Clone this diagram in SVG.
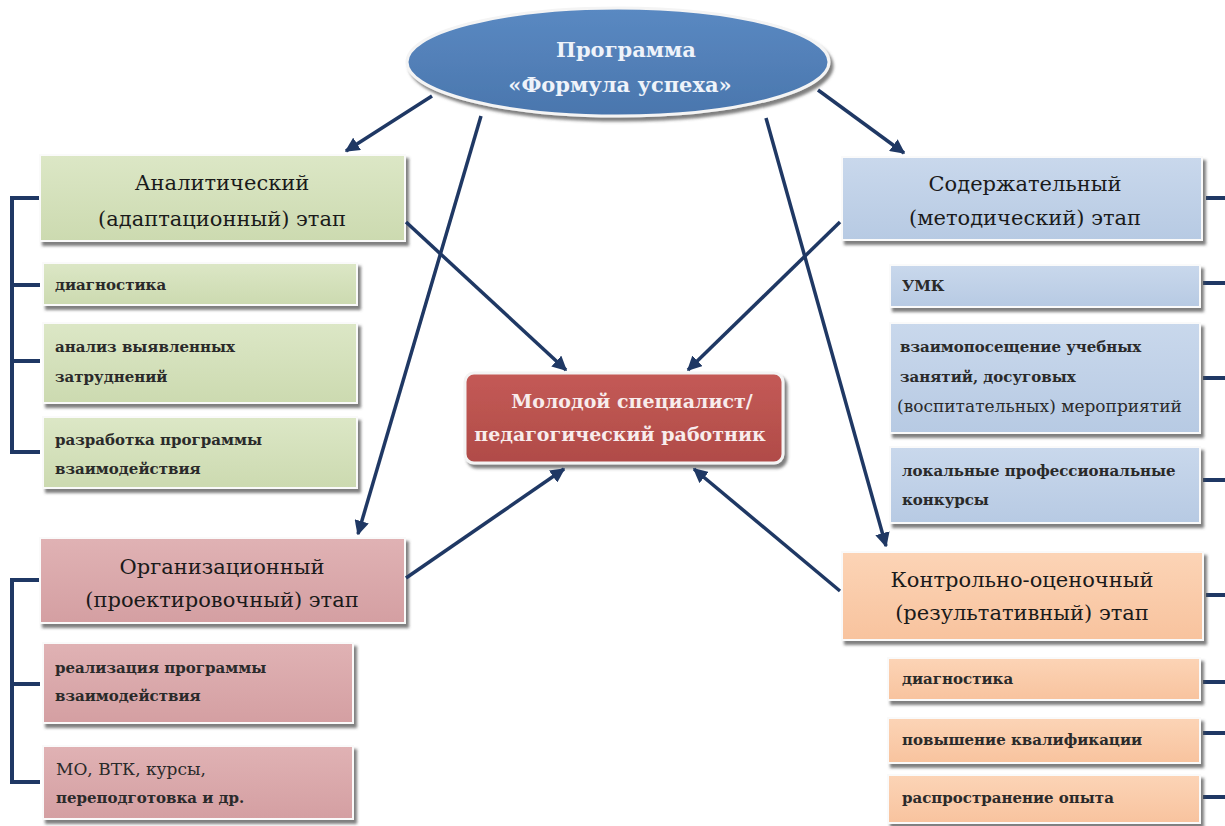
<svg xmlns="http://www.w3.org/2000/svg" width="1225" height="826" viewBox="0 0 1225 826" font-family="'DejaVu Serif', 'Liberation Serif', serif">
<defs>
<filter id="sh" x="-10%" y="-10%" width="125%" height="140%">
<feDropShadow dx="3" dy="4" stdDeviation="1.5" flood-color="#555" flood-opacity="0.75"/>
</filter>
<linearGradient id="gG" x1="0" y1="0" x2="0" y2="1"><stop offset="0" stop-color="#dce7c6"/><stop offset="1" stop-color="#ccdab0"/></linearGradient>
<linearGradient id="gB" x1="0" y1="0" x2="0" y2="1"><stop offset="0" stop-color="#c9d8ec"/><stop offset="1" stop-color="#b7cae3"/></linearGradient>
<linearGradient id="gP" x1="0" y1="0" x2="0" y2="1"><stop offset="0" stop-color="#e0b2b4"/><stop offset="1" stop-color="#d49fa2"/></linearGradient>
<linearGradient id="gO" x1="0" y1="0" x2="0" y2="1"><stop offset="0" stop-color="#fcd4b6"/><stop offset="1" stop-color="#f8c39e"/></linearGradient>
<linearGradient id="gE" x1="0" y1="0" x2="0" y2="1"><stop offset="0" stop-color="#5a89c2"/><stop offset="1" stop-color="#4a76ad"/></linearGradient>
<linearGradient id="gR" x1="0" y1="0" x2="0" y2="1"><stop offset="0" stop-color="#c45a56"/><stop offset="1" stop-color="#b04b48"/></linearGradient>
<marker id="ah" viewBox="0 0 10 10" refX="9" refY="5" markerWidth="4.2" markerHeight="4.2" orient="auto" markerUnits="strokeWidth">
<path d="M0,0 L10,5 L0,10 Z" fill="#1f3864"/>
</marker>
</defs>
<style>
.box{stroke:#fafafa;stroke-width:2;filter:url(#sh)}
.g{fill:url(#gG)} .b{fill:url(#gB)} .p{fill:url(#gP)} .o{fill:url(#gO)}
.title{font-size:21px;fill:#1a1a1a;text-anchor:middle}
.sub{font-size:15px;font-weight:bold;fill:#2a2a2a}
.hd{font-size:21px;font-weight:bold;text-anchor:middle}
.hd2{font-size:19px;font-weight:bold;text-anchor:middle}
.con{stroke:#1f3864;stroke-width:3.5;fill:none;marker-end:url(#ah)}
.br{stroke:#1f3864;stroke-width:4;fill:none}
</style>

<g id="brackets">
<path class="br" d="M40,198 H12 V452 H40 M12,285 H40 M12,361 H40"/>
<path class="br" d="M40,580 H12 V782 H40 M12,684 H40"/>
<path class="br" d="M1206,198 H1225 M1203,283 H1225 M1203,378 H1225 M1203,480 H1225"/>
<path class="br" d="M1206,595 H1225 M1203,682 H1225 M1203,733 H1225 M1203,797 H1225"/>
</g>

<g id="program">
<ellipse cx="618" cy="62" rx="211" ry="54" fill="url(#gE)" stroke="#f4f4f4" stroke-width="3" filter="url(#sh)"/>
<text class="hd" x="626" y="57" fill="#eef3fa">Программа</text>
<text class="hd" x="620" y="92" fill="#eef3fa">«Формула успеха»</text>
</g>

<g id="analytic">
<rect class="box g" x="40" y="155" width="365" height="86"/>
<text class="title" x="222" y="190">Аналитический</text>
<text class="title" x="222" y="226">(адаптационный) этап</text>
</g>
<g id="a1"><rect class="box g" x="43" y="263" width="314" height="42"/><text class="sub" x="55" y="290">диагностика</text></g>
<g id="a2"><rect class="box g" x="43" y="323" width="314" height="80"/><text class="sub" x="55" y="352">анализ выявленных</text><text class="sub" x="55" y="382">затруднений</text></g>
<g id="a3"><rect class="box g" x="43" y="417" width="314" height="71"/><text class="sub" x="55" y="445">разработка программы</text><text class="sub" x="55" y="474">взаимодействия</text></g>

<g id="organiz">
<rect class="box p" x="40" y="538" width="365" height="85"/>
<text class="title" x="222" y="574">Организационный</text>
<text class="title" x="222" y="607">(проектировочный) этап</text>
</g>
<g id="o1"><rect class="box p" x="43" y="643" width="310" height="80"/><text class="sub" x="55" y="673">реализация программы</text><text class="sub" x="55" y="701">взаимодействия</text></g>
<g id="o2"><rect class="box p" x="43" y="746" width="310" height="73"/><text class="sub" x="56" y="775" style="font-size:17px;font-weight:normal">МО, ВТК, курсы,</text><text class="sub" x="56" y="803">переподготовка и др.</text></g>

<g id="content">
<rect class="box b" x="842" y="157" width="360" height="83"/>
<text class="title" x="1025" y="191">Содержательный</text>
<text class="title" x="1025" y="225">(методический) этап</text>
</g>
<g id="c1"><rect class="box b" x="890" y="265" width="310" height="42"/><text class="sub" x="902" y="291">УМК</text></g>
<g id="c2"><rect class="box b" x="890" y="323" width="310" height="110"/><text class="sub" x="900" y="352">взаимопосещение учебных</text><text class="sub" x="900" y="382">занятий, досуговых</text><text class="sub" x="897" y="412" style="font-weight:normal;font-size:17px">(воспитательных) мероприятий</text></g>
<g id="c3"><rect class="box b" x="890" y="447" width="310" height="76"/><text class="sub" x="902" y="476">локальные профессиональные</text><text class="sub" x="902" y="505">конкурсы</text></g>

<g id="control">
<rect class="box o" x="842" y="552" width="361" height="88"/>
<text class="title" x="1022" y="587">Контрольно-оценочный</text>
<text class="title" x="1022" y="620">(результативный) этап</text>
</g>
<g id="k1"><rect class="box o" x="888" y="658" width="312" height="42"/><text class="sub" x="902" y="684">диагностика</text></g>
<g id="k2"><rect class="box o" x="888" y="718" width="312" height="45"/><text class="sub" x="902" y="745">повышение квалификации</text></g>
<g id="k3"><rect class="box o" x="888" y="775" width="312" height="48"/><text class="sub" x="902" y="803">распространение опыта</text></g>

<g id="specialist">
<rect x="465" y="373" width="318" height="90" rx="9" fill="url(#gR)" stroke="#f4f4f4" stroke-width="3" filter="url(#sh)"/>
<text class="hd2" x="632" y="408" fill="#f8ecec">Молодой специалист/</text>
<text class="hd2" x="620" y="441" fill="#f8ecec">педагогический работник</text>
</g>

<g id="connectors">
<line class="con" x1="432" y1="96" x2="346" y2="151"/>
<line class="con" x1="818" y1="90" x2="904" y2="153"/>
<line class="con" x1="481" y1="116" x2="358" y2="534"/>
<line class="con" x1="766" y1="118" x2="886" y2="546"/>
<line class="con" x1="406" y1="222" x2="566" y2="370"/>
<line class="con" x1="840" y1="222" x2="688" y2="370"/>
<line class="con" x1="406" y1="578" x2="564" y2="469"/>
<line class="con" x1="840" y1="591" x2="694" y2="469"/>
</g>
</svg>
